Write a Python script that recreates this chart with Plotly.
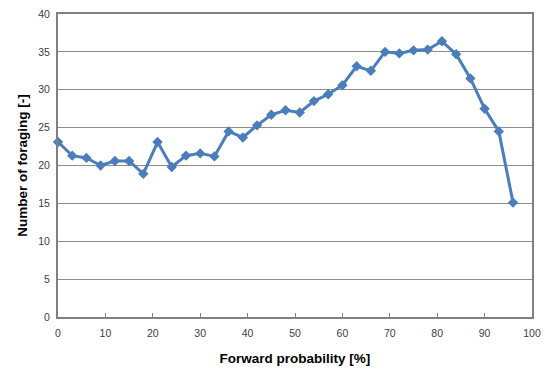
import plotly.graph_objects as go

forward_probability = [0, 3, 6, 9, 12, 15, 18, 21, 24, 27, 30, 33, 36, 39, 42, 45, 48,
                       51, 54, 57, 60, 63, 66, 69, 72, 75, 78, 81, 84, 87, 90, 93, 96]
number_of_foraging = [23.1, 21.3, 21.0, 20.0, 20.6, 20.6, 18.9, 23.1, 19.8, 21.3, 21.6,
                      21.2, 24.5, 23.7, 25.3, 26.7, 27.3, 27.0, 28.5, 29.4, 30.6, 33.1,
                      32.5, 35.0, 34.8, 35.2, 35.3, 36.4, 34.7, 31.5, 27.5, 24.5, 15.1]
x_ticks = [0, 10, 20, 30, 40, 50, 60, 70, 80, 90, 100]
y_ticks = [0, 5, 10, 15, 20, 25, 30, 35, 40]

fig = go.Figure()
fig.add_trace(go.Scatter(
    x=forward_probability, y=number_of_foraging, mode="lines+markers",
    line=dict(color="#4A7EBB", width=3),
    marker=dict(symbol="diamond", size=8, color="#4A7EBB"),
    showlegend=False, cliponaxis=False,
))

font = "Liberation Sans, Arial, sans-serif"
fig.update_layout(
    template="none",
    width=545, height=371,
    margin=dict(l=58, r=13, t=14, b=54),
    paper_bgcolor="white", plot_bgcolor="white",
    font=dict(family=font, size=10, color="#404040"),
)
fig.update_xaxes(
    range=[0, 100], tickvals=x_ticks, ticks="inside", ticklen=4, tickcolor="#808080",
    showgrid=False, showline=True, linecolor="#808080", linewidth=2, mirror=True,
    zeroline=False, automargin=False, ticklabelstandoff=5,
    tickfont=dict(size=10.5, color="#404040"),
    title=dict(text="<b>Forward probability [%]</b>", font=dict(size=13.5, color="#000000"), standoff=16),
)
fig.update_yaxes(
    range=[0, 40], tickvals=y_ticks, ticks="", showgrid=True, gridcolor="#8c8c8c", gridwidth=1,
    showline=True, linecolor="#808080", linewidth=2, mirror=True,
    zeroline=False, automargin=False, ticklabelstandoff=4,
    tickfont=dict(size=10.5, color="#404040"),
    title=dict(text="<b>Number of foraging [-]</b>", font=dict(size=13.5, color="#000000"), standoff=7),
)
fig.write_html(
    "out.html",
    config={"displayModeBar": False},
    post_script="document.body.style.margin='0';document.body.style.overflow='hidden';",
)
